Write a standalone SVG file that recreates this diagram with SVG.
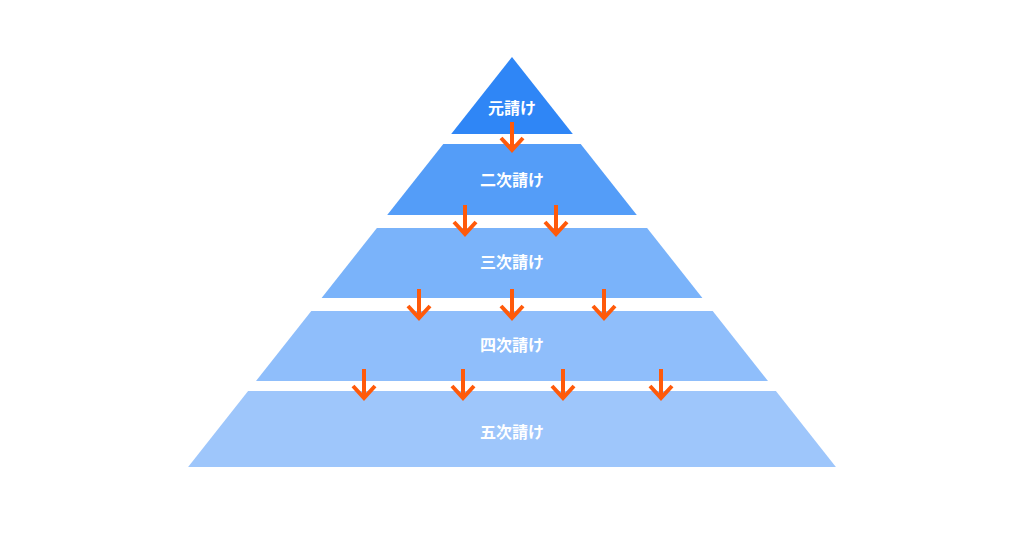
<svg xmlns="http://www.w3.org/2000/svg" width="1024" height="538" viewBox="0 0 1024 538">
<style>
.lbl{font-family:"Noto Sans CJK JP","Noto Sans",sans-serif;font-size:16px;font-weight:bold;fill:#ffffff;text-anchor:middle}
.arr{fill:none;stroke:#ff5a0a;stroke-width:4}
</style>
<rect width="1024" height="538" fill="#ffffff"/>
<g id="tier1"><polygon points="512,57 572.8,134 451.2,134" fill="#2f86f6"/><text class="lbl" x="512" y="114">元請け</text></g>
<g id="tier2"><polygon points="443.3,144 580.7,144 636.8,215 387.2,215" fill="#549df8"/><text class="lbl" x="512" y="186">二次請け</text></g>
<g id="tier3"><polygon points="376.9,228 647.1,228 702.4,298 321.6,298" fill="#7ab3fa"/><text class="lbl" x="512" y="268">三次請け</text></g>
<g id="tier4"><polygon points="311.3,311 712.7,311 768,381 256,381" fill="#8fbefb"/><text class="lbl" x="512" y="351">四次請け</text></g>
<g id="tier5"><polygon points="248.1,391 775.9,391 835.9,467 188.1,467" fill="#9ec6fb"/><text class="lbl" x="512" y="438">五次請け</text></g>
<g id="connectors">
<path class="arr" d="M512,122V150M501,138L512,150L523,138"/>
<path class="arr" d="M465,205V234M454,222L465,234L476,222"/>
<path class="arr" d="M556,205V234M545,222L556,234L567,222"/>
<path class="arr" d="M419,289V318M408,306L419,318L430,306"/>
<path class="arr" d="M512,289V318M501,306L512,318L523,306"/>
<path class="arr" d="M604,289V318M593,306L604,318L615,306"/>
<path class="arr" d="M364,369V398M353,386L364,398L375,386"/>
<path class="arr" d="M463,369V398M452,386L463,398L474,386"/>
<path class="arr" d="M563,369V398M552,386L563,398L574,386"/>
<path class="arr" d="M661,369V398M650,386L661,398L672,386"/>
</g>
</svg>
